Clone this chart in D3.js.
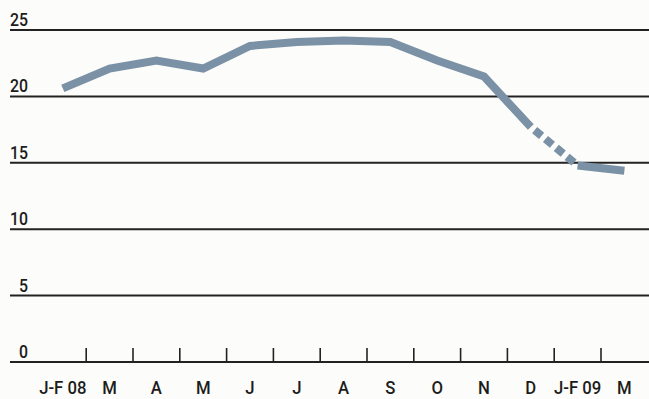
<!DOCTYPE html>
<html>
<head>
<meta charset="utf-8">
<script src="https://cdn.jsdelivr.net/npm/d3@7"></script>
<style>
  html, body { margin: 0; padding: 0; background: #fcfcfa; }
  svg { display: block; }
  .lbl { font-family: Roboto, "Liberation Sans", sans-serif; font-weight: 500; fill: #1c1c1c; }
</style>
</head>
<body>
<svg id="chart" width="649" height="399"></svg>
<script>
// Month categories (Jan-Feb 2008 through March 2009)
const months = ["J-F 08", "M", "A", "M", "J", "J", "A", "S", "O", "N", "D", "J-F 09", "M"];
// Monthly values
const values = [20.6, 22.1, 22.7, 22.1, 23.8, 24.1, 24.2, 24.1, 22.7, 21.5, 17.7, 14.8, 14.4];
// Gridline / y tick values
const yTicks = [0, 5, 10, 15, 20, 25];
// Index range of the interval drawn dashed
const dashedFrom = 10, dashedTo = 11;

const svg = d3.select("#chart");
const W = 649, H = 399;
const condense = 0.88; // horizontal squeeze for a condensed look

const x = d3.scaleBand().domain(d3.range(months.length)).range([39.4, 647.8]).padding(0);
const y = d3.scaleLinear().domain([0, 25]).range([362, 30]);

// Horizontal gridlines
svg.append("g").selectAll("line").data(yTicks).join("line")
  .attr("x1", 10).attr("x2", W)
  .attr("y1", d => y(d)).attr("y2", d => y(d))
  .attr("stroke", "#222").attr("stroke-width", 2);

// Y labels sitting on top of each gridline
svg.append("g").selectAll("text").data(yTicks).join("text")
  .attr("class", "lbl")
  .attr("transform", d => `translate(28,${y(d) - 4}) scale(${condense},1)`)
  .attr("text-anchor", "end")
  .attr("font-size", 18)
  .text(d => d);

// Tick marks between month bands
const bounds = d3.range(1, months.length).map(i => x(i));
svg.append("g").selectAll("line").data(bounds).join("line")
  .attr("x1", d => d).attr("x2", d => d)
  .attr("y1", y(0) - 14).attr("y2", y(0))
  .attr("stroke", "#222").attr("stroke-width", 1.6);

// Month labels
svg.append("g").selectAll("text").data(months).join("text")
  .attr("class", "lbl")
  .attr("transform", (d, i) => `translate(${x(i) + x.bandwidth() / 2},394) scale(${condense},1)`)
  .attr("text-anchor", "middle")
  .attr("font-size", 19)
  .text(d => d);

// Data line: solid, dashed stretch, solid
const pts = values.map((v, i) => [x(i) + x.bandwidth() / 2, y(v)]);
const line = d3.line();
const stroke = "#7b91a5";
const lw = 8;

svg.append("path")
  .attr("d", line(pts.slice(0, dashedFrom + 1)))
  .attr("fill", "none").attr("stroke", stroke).attr("stroke-width", lw)
  .attr("stroke-linejoin", "miter").attr("stroke-linecap", "butt");

svg.append("path")
  .attr("d", line(pts.slice(dashedFrom, dashedTo + 1)))
  .attr("fill", "none").attr("stroke", stroke).attr("stroke-width", lw)
  .attr("stroke-dasharray", "0 5 9 5 9 5 9 5 9 5")
  .attr("stroke-linecap", "butt");

svg.append("path")
  .attr("d", line(pts.slice(dashedTo)))
  .attr("fill", "none").attr("stroke", stroke).attr("stroke-width", lw)
  .attr("stroke-linejoin", "miter").attr("stroke-linecap", "butt");
</script>
</body>
</html>
